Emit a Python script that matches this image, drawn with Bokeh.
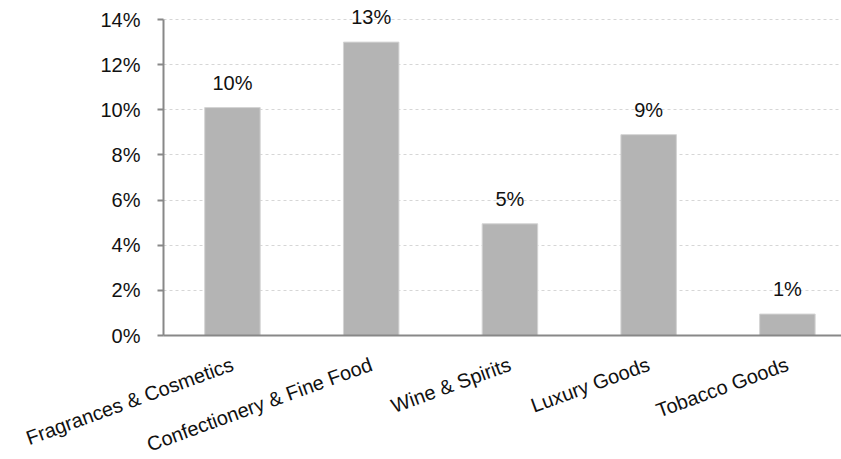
from bokeh.plotting import figure
from bokeh.models import ColumnDataSource, Range1d, FixedTicker, PrintfTickFormatter
from bokeh.core.properties import value
from bokeh.embed import file_html
from bokeh.resources import INLINE

categories = ["Fragrances & Cosmetics", "Confectionery & Fine Food", "Wine & Spirits",
              "Luxury Goods", "Tobacco Goods"]
shares = [10.1, 13.0, 4.95, 8.9, 0.95]
value_labels = ["10%", "13%", "5%", "9%", "1%"]
y_ticks = [0, 2, 4, 6, 8, 10, 12, 14]

xs = list(range(len(categories)))
src = ColumnDataSource(dict(x=xs, top=shares, lab=value_labels))

FONT = "Liberation Sans"
FS = "20px"

p = figure(frame_width=678, frame_height=334, output_backend="svg", toolbar_location=None,
           x_range=Range1d(-0.497, 4.39), y_range=Range1d(0, 14.8),
           min_border_left=163, min_border_right=0, min_border_top=1, min_border_bottom=124)
p.outline_line_color = None
p.background_fill_color = "white"

p.vbar(x="x", top="top", width=0.4, source=src, fill_color="#b4b4b4",
       line_color="#d4d4d4", line_width=1)
p.text(x="x", y="top", text="lab", source=src, text_align="center",
       text_baseline="alphabetic", y_offset=-25, text_font=value(FONT),
       text_font_size=FS, text_color="#111111")

# y axis
ya = p.yaxis[0]
ya.ticker = FixedTicker(ticks=y_ticks)
ya.formatter = PrintfTickFormatter(format="%d%%")
ya.bounds = (0, 14)
ya.axis_line_color = "#888888"
ya.axis_line_width = 2
ya.major_tick_line_color = "#888888"
ya.major_tick_line_width = 2
ya.major_tick_out = 6
ya.major_tick_in = 0
ya.minor_tick_line_color = None
ya.major_label_standoff = 17
ya.major_label_text_font = FONT
ya.major_label_text_font_size = FS
ya.major_label_text_color = "#111111"

# x axis
xa = p.xaxis[0]
xa.ticker = FixedTicker(ticks=xs)
xa.major_label_overrides = {i: c for i, c in enumerate(categories)}
xa.major_label_orientation = 0.35
xa.axis_line_color = "#888888"
xa.axis_line_width = 2
xa.major_tick_line_color = None
xa.minor_tick_line_color = None
xa.major_label_standoff = 22
xa.major_label_text_font = FONT
xa.major_label_text_font_size = "20px"
xa.major_label_text_color = "#111111"

p.xgrid.grid_line_color = None
p.ygrid.ticker = FixedTicker(ticks=y_ticks[1:])
p.ygrid.grid_line_color = "#d6d6d6"
p.ygrid.grid_line_dash = "3 3"
p.ygrid.grid_line_width = 1
p.ygrid.bounds = (0, 14)

open("out.html", "w").write(file_html(p, INLINE))
